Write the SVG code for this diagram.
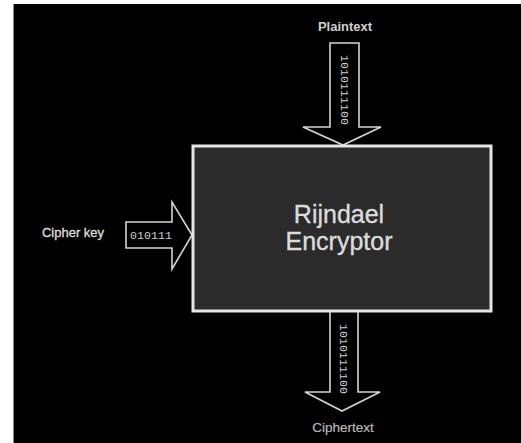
<svg xmlns="http://www.w3.org/2000/svg" width="521" height="443" viewBox="0 0 521 443">
<defs>
<style>
.lbl{font-family:"Liberation Sans",Arial,sans-serif;fill:#dcdcdc;stroke:#dcdcdc;stroke-width:0.35}
.bits{font-family:"Liberation Mono","DejaVu Sans Mono",monospace;fill:#d0d0d0;font-size:11.5px}
.arrow{fill:none;stroke:#d4d4d4;stroke-width:1.6;stroke-linejoin:miter}
</style>
</defs>
<rect x="0" y="0" width="521" height="443" fill="#ffffff"/>
<rect x="13" y="4" width="508" height="439" fill="#000000"/>
<line x1="13.5" y1="4" x2="13.5" y2="443" stroke="#888" stroke-width="1"/>
<g id="connectors">
<g id="plaintext-arrow">
<path class="arrow" d="M330,43 H359 V127 H381 L343,145 L303,127 H330 Z"/>
<text class="bits" transform="translate(341,55) rotate(90)" textLength="70">1010111100</text>
</g>
<g id="cipherkey-arrow">
<path class="arrow" d="M126,222 H172 V202 L192,235 L172,269 V248 H126 Z"/>
<text class="bits" x="130" y="239" textLength="42">010111</text>
</g>
<g id="ciphertext-arrow">
<path class="arrow" d="M330,312 V392 H305 L342,411 L380,392 H358 V312"/>
<text class="bits" transform="translate(340,324) rotate(90)" textLength="70">1010111100</text>
</g>
</g>
<g id="encryptor">
<rect x="193" y="146" width="298" height="165" fill="#2b2b2b" stroke="#e6e6e6" stroke-width="3"/>
<text class="lbl" x="339" y="223" text-anchor="middle" font-size="25">Rijndael</text>
<text class="lbl" x="339" y="250" text-anchor="middle" font-size="25">Encryptor</text>
</g>
<g id="plaintext">
<text class="lbl" x="345" y="31" text-anchor="middle" font-size="13" font-weight="bold" style="fill:#cfcfcf;stroke:none">Plaintext</text>
</g>
<g id="cipherkey">
<text class="lbl" x="73" y="237" text-anchor="middle" font-size="13">Cipher key</text>
</g>
<g id="ciphertext">
<text class="lbl" x="343" y="432" text-anchor="middle" font-size="13.5" style="fill:#b8b8b8;stroke:#b8b8b8;stroke-width:0.2">Ciphertext</text>
</g>
</svg>
